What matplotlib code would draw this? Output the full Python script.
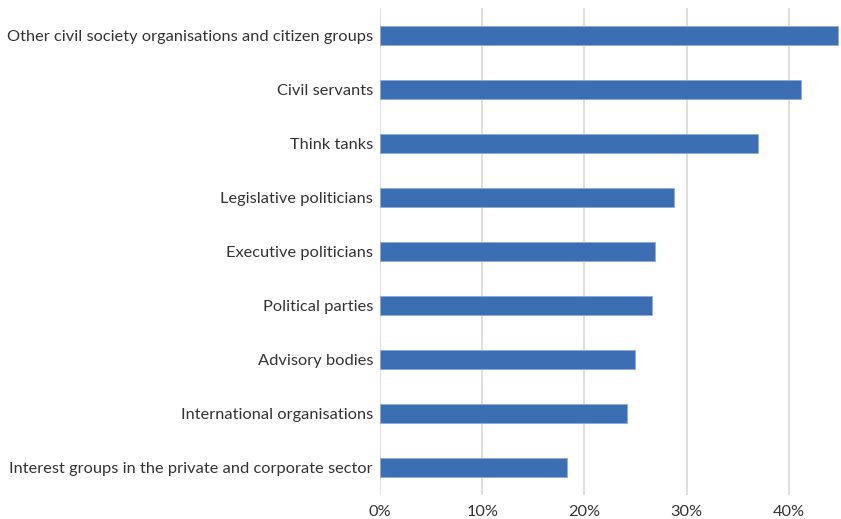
import matplotlib
matplotlib.use("Agg")
import matplotlib.pyplot as plt
from matplotlib.ticker import FuncFormatter, MultipleLocator

categories = [
    "Other civil society organisations and citizen groups",
    "Civil servants",
    "Think tanks",
    "Legislative politicians",
    "Executive politicians",
    "Political parties",
    "Advisory bodies",
    "International organisations",
    "Interest groups in the private and corporate sector",
]
shares = [0.448, 0.412, 0.370, 0.2875, 0.269, 0.266, 0.249, 0.242, 0.183]

plt.rcParams["font.family"] = ["Lato", "DejaVu Sans"]

W, H = 841, 519
fig = plt.figure(figsize=(W / 100, H / 100), dpi=100)
ax = fig.add_axes([380 / W, 24 / H, 460 / W, 487 / H])

ypos = list(range(len(categories)))[::-1]
ax.barh(ypos, shares, height=0.35, color="#3C6EB4", edgecolor="#8FAADC",
        linewidth=0.6, zorder=3)

ax.set_xlim(0, 0.45)
ax.set_ylim(-0.5, len(categories) - 0.5)
ax.set_yticks(ypos)
ax.set_yticklabels(categories)
ax.xaxis.set_major_locator(MultipleLocator(0.1))
ax.xaxis.set_major_formatter(FuncFormatter(lambda v, _: f"{v * 100:.0f}%"))

ax.grid(axis="x", color="#D9D9D9", linewidth=1.2, zorder=0)
for s in ["top", "right", "bottom", "left"]:
    ax.spines[s].set_visible(False)
ax.tick_params(axis="both", length=0, labelsize=11.8, colors="#333333")
ax.tick_params(axis="y", pad=5)
ax.tick_params(axis="x", pad=7)

fig.savefig("out.png", dpi=100)
